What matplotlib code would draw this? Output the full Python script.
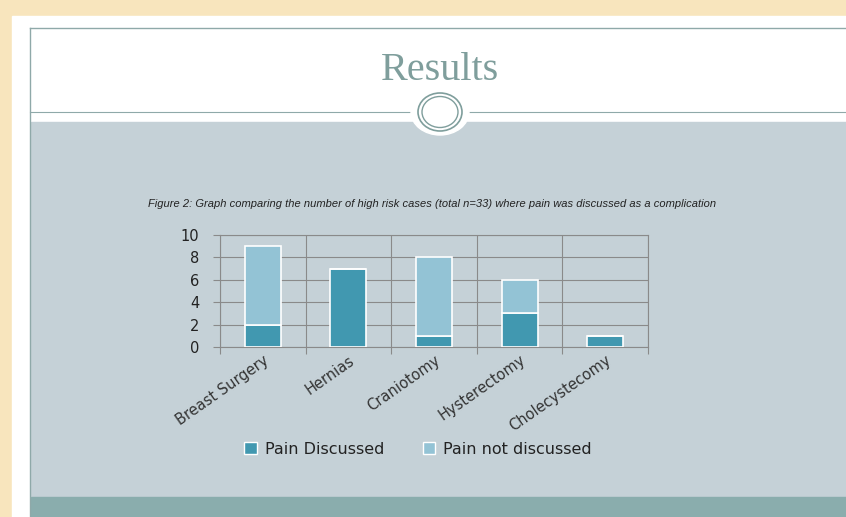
import numpy as np
import matplotlib.pyplot as plt
from matplotlib.patches import Rectangle, Ellipse, Patch

categories = ['Breast Surgery', 'Hernias', 'Craniotomy', 'Hysterectomy', 'Cholecystecomy']
pain_discussed = [2, 7, 1, 3, 1]
pain_not_discussed = [7, 0, 7, 3, 0]
series_names = ['Pain Discussed', 'Pain not discussed']
y_ticks = [0, 2, 4, 6, 8, 10]

W, H = 846, 517
fig = plt.figure(figsize=(W / 100, H / 100), dpi=100)
fig.patch.set_facecolor('#f8e5bd')

# slide decoration drawn in pixel coordinates
bg = fig.add_axes([0, 0, 1, 1])
bg.set_xlim(0, W)
bg.set_ylim(H, 0)
bg.axis('off')
bg.add_patch(Rectangle((12, 16), W - 12, H - 16, color='white', zorder=1))
bg.add_patch(Rectangle((31, 122), W - 31, 375, color='#c5d1d7', zorder=2))
bg.add_patch(Rectangle((31, 497), W - 31, 20, color='#8aadad', zorder=2))
bg.plot([30, 30], [28, H], color='#8fa9a9', lw=1, zorder=3)
bg.plot([30, W], [28, 28], color='#8fa9a9', lw=1, zorder=3)
bg.plot([30, W], [112, 112], color='#8fa9a9', lw=0.8, zorder=3)
bg.add_patch(Ellipse((440, 112), 58, 46, color='white', zorder=4))
bg.add_patch(Ellipse((440, 112), 44, 38, fill=False, ec='#7f9e9c', lw=1.2, zorder=5))
bg.add_patch(Ellipse((440, 112), 36, 31, fill=False, ec='#7f9e9c', lw=1.0, zorder=5))
bg.text(440, 70, 'Results', ha='center', va='center', fontsize=29,
        family='Liberation Serif', color='#7f9e9c', zorder=5)
bg.text(432, 204, 'Figure 2: Graph comparing the number of high risk cases (total n=33) where pain was discussed as a complication',
        ha='center', va='center', fontsize=8, style='italic',
        family='Liberation Sans', color='#222222', zorder=5)

# chart
ax = fig.add_axes([220 / W, 1 - 347 / H, (648 - 220) / W, (347 - 235) / H])
ax.set_facecolor('none')
x = np.arange(len(categories))
ax.bar(x, pain_discussed, width=0.42, color='#4198b0', edgecolor='white', lw=1.2, zorder=3,
       label=series_names[0])
ax.bar(x, pain_not_discussed, width=0.42, bottom=pain_discussed, color='#93c3d5',
       edgecolor='white', lw=1.2, zorder=3, label=series_names[1])
ax.set_xlim(-0.5, len(categories) - 0.5)
ax.set_ylim(0, 10)
ax.set_yticks(y_ticks)
ax.set_yticklabels([str(v) for v in y_ticks], fontsize=10.5, color='#222222')
ax.set_xticks(np.arange(len(categories) + 1) - 0.5)
ax.set_xticklabels([])
ax.set_xticks(x, minor=True)
ax.set_xticklabels(categories, minor=True, rotation=35, ha='right', rotation_mode='anchor',
                   fontsize=10.5, color='#333333')
ax.tick_params(axis='x', which='minor', length=0, pad=4)
ax.tick_params(axis='x', which='major', length=5, color='#8a8a8a')
ax.tick_params(axis='y', length=5, color='#8a8a8a', pad=10)
ax.grid(True, which='major', color='#8a8a8a', lw=0.8, zorder=0)
for s in ax.spines.values():
    s.set_color('#8a8a8a')
    s.set_linewidth(0.8)

handles = [Patch(facecolor='#4198b0', edgecolor='white'), Patch(facecolor='#93c3d5', edgecolor='white')]
fig.legend(handles, series_names, loc='center', bbox_to_anchor=(418 / W, 1 - 449 / H), ncol=2,
           frameon=False, fontsize=11.5, handlelength=0.8, handleheight=0.7, columnspacing=2.4,
           handletextpad=0.5, labelcolor='#222222')

fig.savefig('out.png', dpi=100)
